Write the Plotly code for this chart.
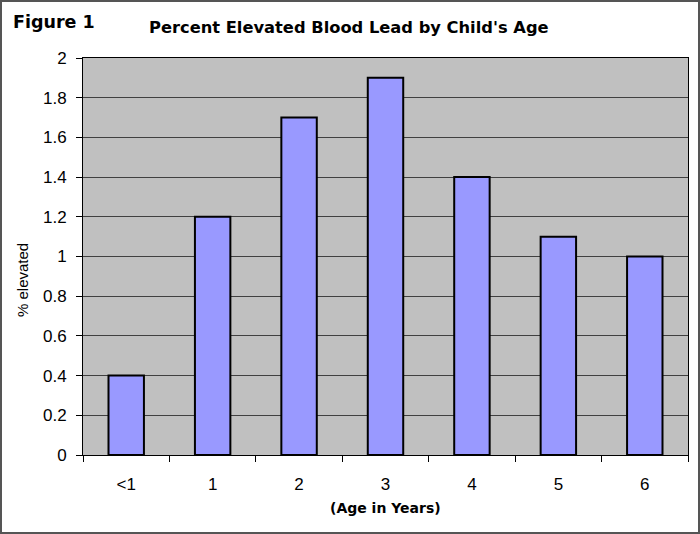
import plotly.graph_objects as go

ages = ["<1", "1", "2", "3", "4", "5", "6"]
pct_elevated = [0.4, 1.2, 1.7, 1.9, 1.4, 1.1, 1.0]
y_ticks = [0, 0.2, 0.4, 0.6, 0.8, 1, 1.2, 1.4, 1.6, 1.8, 2]
y_tick_labels = ["0", "0.2", "0.4", "0.6", "0.8", "1", "1.2", "1.4", "1.6", "1.8", "2"]

W, H = 700, 534
ml, mr, mt, mb = 83, 12, 58, 79
pw, ph = W - ml - mr, H - mt - mb
BOLD = "DejaVu Sans, Verdana, sans-serif"

fig = go.Figure(go.Bar(
    x=ages, y=pct_elevated,
    marker=dict(color="#9999FF", line=dict(color="black", width=2)),
    width=0.41,
))

fig.update_layout(
    width=W, height=H,
    margin=dict(l=ml, r=mr, t=mt, b=mb, pad=0),
    paper_bgcolor="white",
    plot_bgcolor="#C0C0C0",
    font=dict(family="Liberation Sans, Arial, sans-serif", color="black"),
    showlegend=False,
    annotations=[
        dict(text="<b>Figure 1</b>", xref="paper", yref="paper",
             x=-(ml - 11) / pw, y=1 + (mt - 22) / ph, xanchor="left", yanchor="middle",
             showarrow=False, font=dict(size=17.5, family=BOLD)),
        dict(text="<b>Percent Elevated Blood Lead by Child's Age</b>", xref="paper", yref="paper",
             x=(349 - ml) / pw, y=1 + (mt - 27) / ph, xanchor="center", yanchor="middle",
             showarrow=False, font=dict(size=16.3, family=BOLD)),
        dict(text="<b>(Age in Years)</b>", xref="paper", yref="paper",
             x=(385 - ml) / pw, y=-(508 - (H - mb)) / ph, xanchor="center", yanchor="middle",
             showarrow=False, font=dict(size=14, family=BOLD)),
        dict(text="% elevated", xref="paper", yref="paper",
             x=-(ml - 22) / pw, y=1 - (280 - mt) / ph, xanchor="center", yanchor="middle", textangle=-90,
             showarrow=False, font=dict(size=15)),
    ],
    shapes=[
        dict(type="rect", xref="paper", yref="paper",
             x0=-(ml - 1) / pw, x1=1 + (mr - 1) / pw,
             y0=-(mb - 1) / ph, y1=1 + (mt - 1) / ph,
             line=dict(color="#555555", width=2), layer="below"),
    ],
)

fig.update_xaxes(
    type="category", showgrid=False, tickson="boundaries",
    ticks="outside", ticklen=6, tickcolor="black", tickwidth=1,
    showline=True, linecolor="black", linewidth=1, mirror=True,
    tickfont=dict(size=17), ticklabelstandoff=14,
)
fig.update_yaxes(
    range=[0, 2], tickvals=y_ticks, ticktext=y_tick_labels,
    showgrid=True, gridcolor="#404040", gridwidth=1,
    zeroline=False,
    ticks="outside", ticklen=6, tickcolor="black", tickwidth=1,
    showline=True, linecolor="black", linewidth=1, mirror=True,
    tickfont=dict(size=17), ticklabelstandoff=6,
)

fig.write_html("out.html")
